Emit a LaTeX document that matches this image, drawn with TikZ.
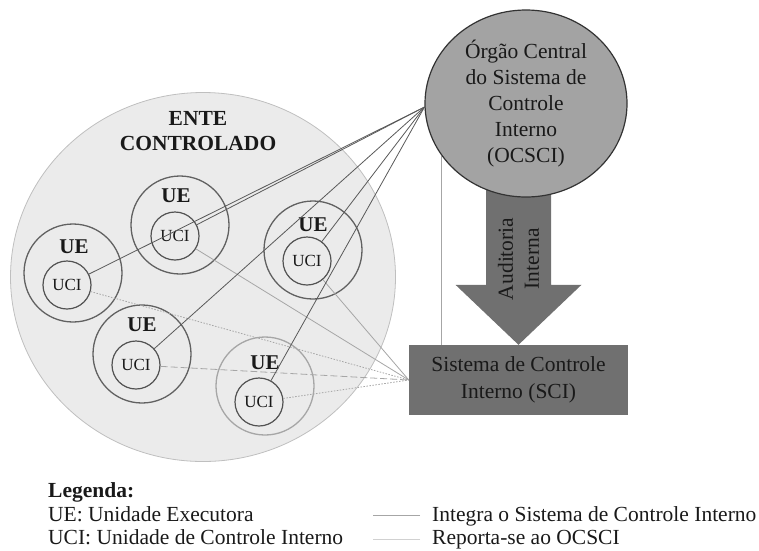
\documentclass[tikz,border=0pt]{standalone}
\usepackage{fontspec}
\setmainfont{Liberation Serif}
\usetikzlibrary
  {
    shapes.geometric, % ellipses
    calc,             % offsets from anchors
  }

\begin{document}
\begin{tikzpicture}
    [
      x=1pt, y=-1pt,
      % Styles
      ente/.style={ellipse, draw=entelinecolor, fill=entefillcolor, line width=0.8pt,
        inner sep=0pt, minimum width=385pt, minimum height=369pt},
      ue ring/.style={circle, line width=1.3pt, inner sep=0pt, minimum size=98pt},
      uci/.style={circle, draw=ucilinecolor, line width=1.2pt, inner sep=0pt,
        minimum size=48pt, text=textcolor, font=\fontsize{17}{19}\selectfont},
      ue text/.style={inner sep=0pt, text=textcolor, font=\fontsize{21}{24}\selectfont\bfseries},
      big text/.style={align=center, text=textcolor, font=\fontsize{21.5}{26}\selectfont},
      legend text/.style={anchor=base west, inner sep=0pt, text=textcolor,
        font=\fontsize{21.5}{24}\selectfont},
      report/.style={reportcolor, line width=0.8pt},
      integra/.style={integracolor, line width=0.8pt},
    ]

    % Colors
    \colorlet{textcolor}{black!90}
    \colorlet{entefillcolor}{black!8}
    \colorlet{entelinecolor}{black!25}
    \colorlet{uelinecolor}{black!62}
    \colorlet{uelightcolor}{black!35}
    \colorlet{ucilinecolor}{black!68}
    \colorlet{ocscifillcolor}{black!36}
    \colorlet{ocscilinecolor}{black!80}
    \colorlet{darkfillcolor}{black!56}
    \colorlet{reportcolor}{black!65}
    \colorlet{integracolor}{black!35}

    \useasboundingbox (0,0) rectangle (759,550);

    % ente controlado
    \node [ente] (ente) at (203,277) {};
    \node [ue text, align=center, font=\fontsize{21.5}{25}\selectfont\bfseries] (entelabel) at (198,131) {ENTE\\CONTROLADO};

    % unidades executoras with their UCI
    \foreach \n/\ox/\oy/\lx/\ly/\cx/\cy/\uecol in
      {1/180/225/176/196/175/236/uelinecolor,
       2/73/273/74/247/67/285/uelinecolor,
       3/313/250/313/225/307/261/uelinecolor,
       4/142/354/142/325/136/365/uelinecolor,
       5/265/386/265/363/259/402/uelightcolor}
    {
      \node [ue ring, draw=\uecol] (ue\n) at (\ox,\oy) {};
      \node [ue text] (uelabel\n) at (\lx,\ly) {UE};
      \node [uci] (uci\n) at (\cx,\cy) {UCI};
    }

    % sistema de controle interno
    \node [rectangle, fill=darkfillcolor, inner sep=0pt, minimum width=219pt, minimum height=70pt,
      big text, font=\fontsize{21.5}{27}\selectfont] (sci) at (518.5,380) {Sistema de Controle\\Interno (SCI)};

    % auditoria interna arrow
    \coordinate (audtip) at (sci.north);
    \fill [darkfillcolor] (audtip) -- ++(-63,-60) -- ++(30.5,0) -- ++(0,-100) -- ++(65,0)
      -- ++(0,100) -- ++(30.5,0) -- cycle;
    \node [big text, rotate=90] (audlabel) at ($(audtip)+(0,-86)$) {Auditoria\\Interna};

    % orgao central
    \node [ellipse, draw=ocscilinecolor, fill=ocscifillcolor, line width=1.2pt, inner sep=0pt,
      minimum width=202pt, minimum height=187pt, big text] (ocsci) at (526,103.5)
      {Órgão Central\\do Sistema de\\Controle\\Interno\\(OCSCI)};

    % UCI integra o SCI
    \draw [integra] (uci1) -- (sci.west);
    \draw [integra, dash pattern=on 1.5pt off 1.5pt] (uci2) -- (sci.west);
    \draw [integra] (uci3) -- (sci.west);
    \draw [integra, dash pattern=on 7pt off 3pt] (uci4) -- (sci.west);
    \draw [integra, dash pattern=on 1.5pt off 1.5pt] (uci5) -- (sci.west);
    \draw [integra] (ocsci.212) -- (ocsci.212 |- sci.north);

    % UCI reporta-se ao OCSCI
    \foreach \n in {1,...,5}
    {
      \draw [report] (uci\n) -- (ocsci.182);
    }

    % legenda
    \node [legend text, font=\fontsize{21.5}{24}\selectfont\bfseries] (legtitle) at (48,497) {Legenda:};
    \node [legend text] (legue) at (48,521) {UE: Unidade Executora};
    \node [legend text] (leguci) at (48,544) {UCI: Unidade de Controle Interno};
    \node [legend text] (legintegra) at (432,521) {Integra o Sistema de Controle Interno};
    \node [legend text] (legreport) at (432,544) {Reporta-se ao OCSCI};
    \draw [integra] ($(legintegra.west)+(-12,0)$) -- ++(-47,0);
    \draw [integra, black!18] ($(legreport.west)+(-12,0)$) -- ++(-47,0);
  \end{tikzpicture}
\end{document}
